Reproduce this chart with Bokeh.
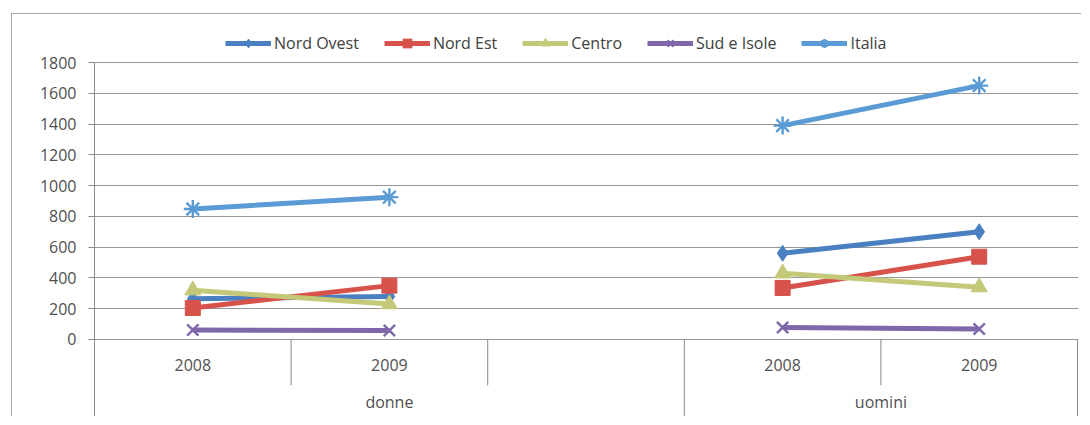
import numpy as np
from bokeh.plotting import figure
from bokeh.models import Range1d, FixedTicker, Legend, LegendItem, ColumnDataSource
from bokeh.core.properties import value
from bokeh.embed import file_html
from bokeh.resources import INLINE

# ---------------- data ----------------
groups = ["donne", "donne", "donne", "uomini", "uomini"]
years = ["2008", "2009", "", "2008", "2009"]
nan = float("nan")
nord_ovest = [265, 280, nan, 560, 700]
nord_est = [205, 350, nan, 335, 538]
centro = [320, 230, nan, 430, 340]
sud_isole = [62, 58, nan, 78, 68]
italia = [848, 925, nan, 1390, 1650]
y_ticks = [0, 200, 400, 600, 800, 1000, 1200, 1400, 1600, 1800]

series_names = ["Nord Ovest", "Nord Est", "Centro", "Sud e Isole", "Italia"]
series_values = [nord_ovest, nord_est, centro, sud_isole, italia]
colors = ["#4a7fc1", "#d6524a", "#c4c97a", "#7e68aa", "#5b9bd5"]
markers = ["diamond", "square", "triangle", "x", "asterisk"]
marker_sizes = [16, 15, 16, 16, 18]

FONT = "Open Sans"
TEXT_COLOR = "#505050"

# ---------------- figure ----------------
Y_TOP = 2112
Y_BOTTOM = -507
x = np.arange(len(years))

p = figure(width=1070, height=403, output_backend="svg", toolbar_location=None,
           x_range=Range1d(-0.5, len(years) - 0.495), y_range=Range1d(Y_BOTTOM, Y_TOP),
           x_axis_location=None, min_border_left=82, min_border_right=4,
           min_border_top=0, min_border_bottom=0)
p.outline_line_color = None
p.background_fill_color = "white"
p.border_fill_color = "white"
p.styles = {"margin-left": "11px", "margin-top": "13px",
            "border-left": "1px solid #a8a8a8", "border-top": "1px solid #a8a8a8"}

yax = p.yaxis[0]
yax.ticker = FixedTicker(ticks=y_ticks)
yax.bounds = (Y_BOTTOM, y_ticks[-1])
yax.major_tick_out = 6
yax.major_tick_in = 0
yax.minor_tick_line_color = None
yax.axis_line_color = "#888888"
yax.major_tick_line_color = "#888888"
yax.major_label_text_font = FONT
yax.major_label_text_font_size = "16px"
yax.major_label_text_color = TEXT_COLOR
yax.major_label_standoff = 12

p.xgrid.grid_line_color = None
p.ygrid.ticker = FixedTicker(ticks=y_ticks)
p.ygrid.grid_line_color = "#979797"
p.ygrid.grid_line_width = 1

# category table dividers
short_bottom = -298
div_x, div_y0, div_y1 = [], [], []
for i in range(len(years)):
    edge = x[i] + 0.5
    last = i == len(years) - 1
    long_line = last or groups[i] != groups[i + 1]
    div_x.append(edge)
    div_y0.append(0)
    div_y1.append(Y_BOTTOM if long_line else short_bottom)
p.segment(x0=div_x, y0=div_y0, x1=div_x, y1=div_y1, line_color="#888888", line_width=1)

# category labels
p.text(x=x, y=[-168] * len(x), text=years, text_font=value(FONT), text_font_size="16px",
       text_color=TEXT_COLOR, text_align="center", text_baseline="middle")
group_names = list(dict.fromkeys(groups))
group_centers = [float(np.mean([xi for xi, g in zip(x, groups) if g == gn])) for gn in group_names]
p.text(x=group_centers, y=[-409] * len(group_names), text=group_names, text_font=value(FONT),
       text_font_size="16px", text_color=TEXT_COLOR, text_align="center", text_baseline="alphabetic")

# series
items = []
for name, vals, col, mk, ms in zip(series_names, series_values, colors, markers, marker_sizes):
    src = ColumnDataSource(dict(x=x, y=vals))
    ln = p.line("x", "y", source=src, line_color=col, line_width=5)
    if mk in ("x", "asterisk"):
        sc = p.scatter("x", "y", source=src, marker=mk, size=ms, line_color=col, line_width=2.4,
                       fill_color=None)
    else:
        sc = p.scatter("x", "y", source=src, marker=mk, size=ms, line_color=col, fill_color=col)
    items.append(LegendItem(label=name, renderers=[ln, sc]))

legend = Legend(items=items, orientation="horizontal", location=(131, 363),
                border_line_color=None, background_fill_alpha=0,
                label_text_font=FONT, label_text_font_size="16px", label_text_color="#404040",
                glyph_width=46, glyph_height=22, label_standoff=3, spacing=25,
                padding=0, margin=0)
p.add_layout(legend, "center")

open("out.html", "w").write(file_html(p, INLINE))
